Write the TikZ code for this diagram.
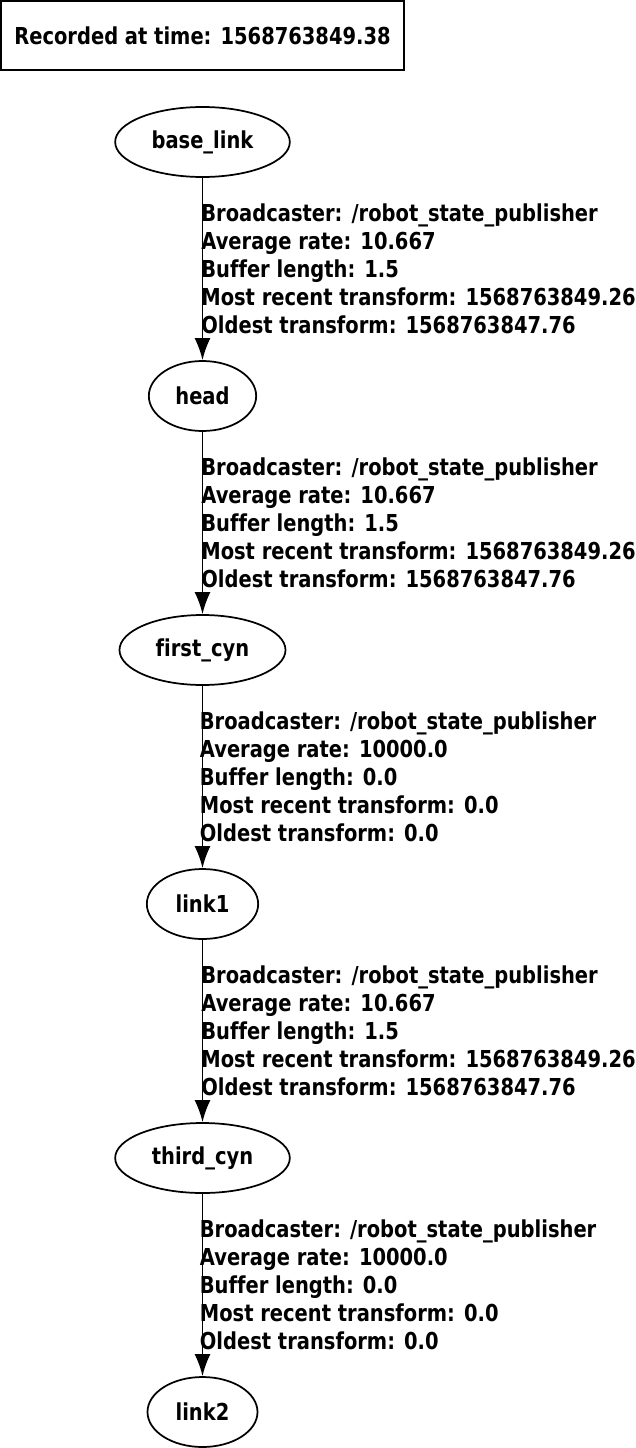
\documentclass[tikz,border=0pt]{standalone}
\usepackage{fontspec}
\setmainfont{DejaVu Sans}[FakeStretch=0.835,Ligatures=NoCommon]
\usepackage{tikz}
\usetikzlibrary{shapes.geometric,arrows.meta,positioning}
\tikzset{
	frame/.style={
		draw, ellipse, line width=1.3pt,
		minimum height=52.5pt, inner sep=0pt, text=black,
		font=\bfseries\fontsize{17.5}{21}\selectfont
	},
	tfedge/.style={-{Latex[length=16.5pt,width=12pt]}, line width=1.3pt},
	tflabel/.style={
		anchor=west, inner sep=0pt, align=left, xshift=-1.5pt,
		font=\bfseries\fontsize{17.5}{21}\selectfont
	},
}

\begin{document}
\begin{tikzpicture}[x=0.75pt,y=-0.75pt,
			node distance=136.7pt,
			stampbox/.style={
				draw, rectangle, line width=1.3pt,
				minimum width=302pt, minimum height=51.5pt,
				inner sep=0pt, font=\bfseries\fontsize{17.5}{21}\selectfont
			}]
		\useasboundingbox (0,0) rectangle (635,1448);
		\node[stampbox] (stamp) at (202.5,35.5) {Recorded at time: 1568763849.38};
		\node[frame,minimum width=131pt] (base_link) at (202.5,142) {base\_link};
		\node[frame,minimum width=80.5pt]  (head)      [below=of base_link] {head};
		\node[frame,minimum width=124.5pt] (first_cyn) [below=of head] {first\_cyn};
		\node[frame,minimum width=83.5pt]  (link1)     [below=of first_cyn] {link1};
		\node[frame,minimum width=131pt] (third_cyn) [below=of link1] {third\_cyn};
		\node[frame,minimum width=82.5pt]  (link2)     [below=of third_cyn] {link2};
		\draw[tfedge] (base_link) -- (head) node[midway,tflabel] {Broadcaster: /robot\_state\_publisher\\Average rate: 10.667\\Buffer length: 1.5\\Most recent transform: 1568763849.26\\Oldest transform: 1568763847.76};
		\draw[tfedge] (head) -- (first_cyn) node[midway,tflabel] {Broadcaster: /robot\_state\_publisher\\Average rate: 10.667\\Buffer length: 1.5\\Most recent transform: 1568763849.26\\Oldest transform: 1568763847.76};
		\draw[tfedge] (first_cyn) -- (link1) node[midway,tflabel,xshift=-1.1pt] {Broadcaster: /robot\_state\_publisher\\Average rate: 10000.0\\Buffer length: 0.0\\Most recent transform: 0.0\\Oldest transform: 0.0};
		\draw[tfedge] (link1) -- (third_cyn) node[midway,tflabel] {Broadcaster: /robot\_state\_publisher\\Average rate: 10.667\\Buffer length: 1.5\\Most recent transform: 1568763849.26\\Oldest transform: 1568763847.76};
		\draw[tfedge] (third_cyn) -- (link2) node[midway,tflabel,xshift=-1.1pt] {Broadcaster: /robot\_state\_publisher\\Average rate: 10000.0\\Buffer length: 0.0\\Most recent transform: 0.0\\Oldest transform: 0.0};
	\end{tikzpicture}
\end{document}
